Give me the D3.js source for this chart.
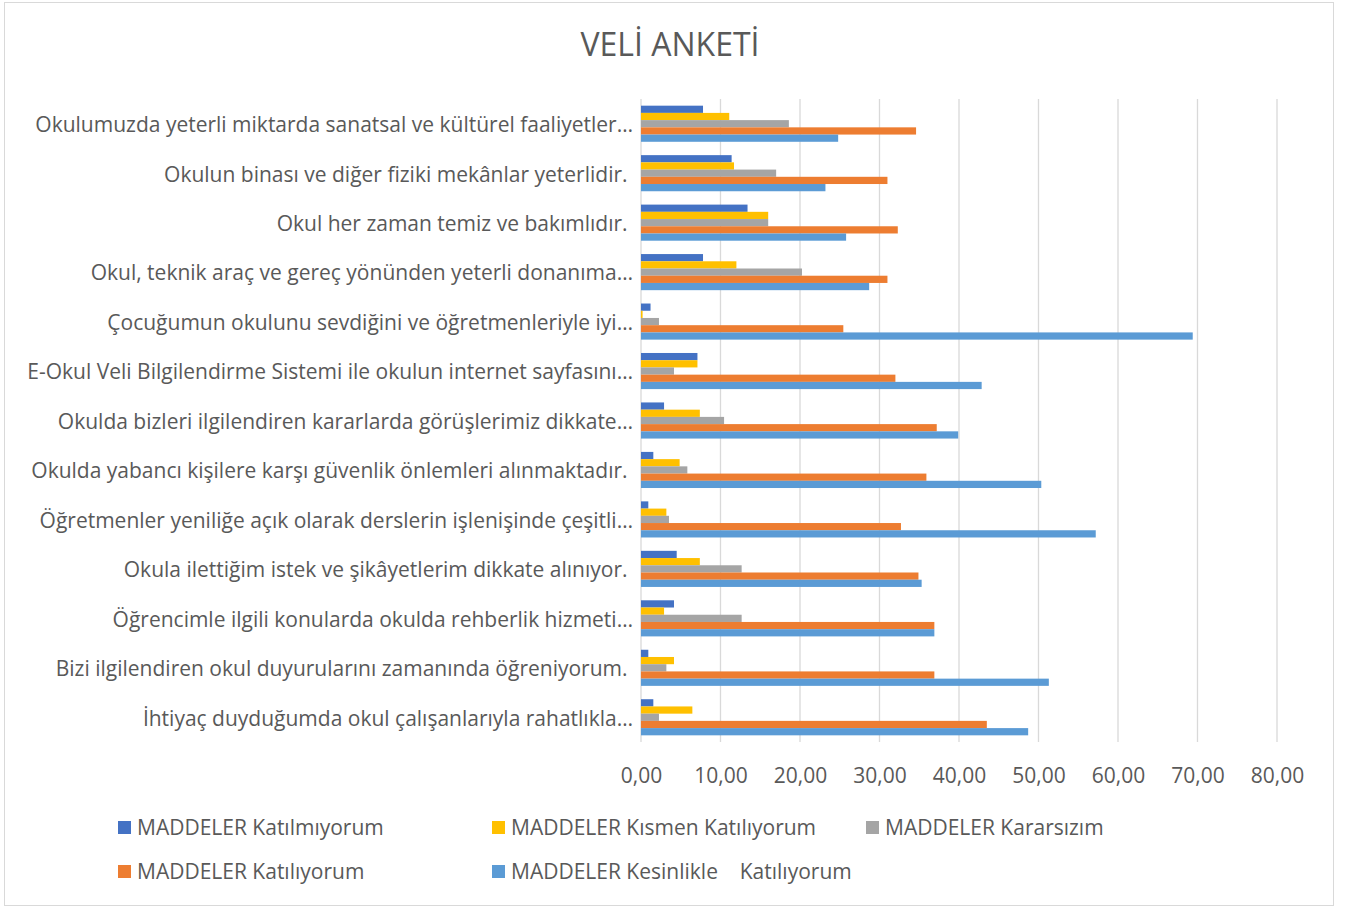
<!DOCTYPE html>
<html>
<head>
<meta charset="utf-8">
<script src="https://cdn.jsdelivr.net/npm/d3@7"></script>
<style>
    body { margin: 0; background: #fff; }
    text { font-family: "Open Sans", "Noto Sans", sans-serif; fill: #595959; white-space: pre; }
</style>
</head>
<body>
<svg id="chart"></svg>
<script>
// categories, top to bottom as shown (full sentences keep their trailing space)
let categories = [
    "Okulumuzda yeterli miktarda sanatsal ve kültürel faaliyetler…",
    "Okulun binası ve diğer fiziki mekânlar yeterlidir. ",
    "Okul her zaman temiz ve bakımlıdır. ",
    "Okul, teknik araç ve gereç yönünden yeterli donanıma…",
    "Çocuğumun okulunu sevdiğini ve öğretmenleriyle iyi…",
    "E-Okul Veli Bilgilendirme Sistemi ile okulun internet sayfasını…",
    "Okulda bizleri ilgilendiren kararlarda görüşlerimiz dikkate…",
    "Okulda yabancı kişilere karşı güvenlik önlemleri alınmaktadır. ",
    "Öğretmenler yeniliğe açık olarak derslerin işlenişinde çeşitli…",
    "Okula ilettiğim istek ve şikâyetlerim dikkate alınıyor. ",
    "Öğrencimle ilgili konularda okulda rehberlik hizmeti…",
    "Bizi ilgilendiren okul duyurularını zamanında öğreniyorum. ",
    "İhtiyaç duyduğumda okul çalışanlarıyla rahatlıkla…"
];

let seriesNames = [
    "MADDELER Katılmıyorum",
    "MADDELER Kısmen Katılıyorum",
    "MADDELER Kararsızım",
    "MADDELER Katılıyorum",
    "MADDELER Kesinlikle    Katılıyorum"
];
let seriesColors = ["#4472C4", "#FFC000", "#A5A5A5", "#ED7D31", "#5B9BD5"];

let katilmiyorum = [7.8, 11.4, 13.4, 7.8, 1.2, 7.1, 2.9, 1.55, 0.92, 4.49, 4.15, 0.92, 1.55];
let kismen       = [11.1, 11.7, 16.0, 12.0, 0.2, 7.1, 7.4, 4.86, 3.19, 7.4, 2.9, 4.15, 6.46];
let kararsiz     = [18.6, 17.0, 16.0, 20.25, 2.26, 4.15, 10.45, 5.83, 3.52, 12.66, 12.66, 3.19, 2.26];
let katiliyorum  = [34.6, 31.0, 32.3, 31.0, 25.45, 32.0, 37.2, 35.9, 32.7, 34.9, 36.9, 36.9, 43.5];
let kesinlikle   = [24.8, 23.2, 25.8, 28.7, 69.4, 42.85, 39.9, 50.35, 57.2, 35.3, 36.9, 51.3, 48.7];

let xTicks = [0, 10, 20, 30, 40, 50, 60, 70, 80];

let allSeries = [katilmiyorum, kismen, kararsiz, katiliyorum, kesinlikle];

let width = 1350, height = 909;
let svg = d3.select('#chart').attr('width', width).attr('height', height);

// chart frame
svg.append('rect')
    .attr('x', 4.5).attr('y', 2.5).attr('width', 1329).attr('height', 903)
    .attr('fill', '#fff').attr('stroke', '#D9D9D9').attr('stroke-width', 1);

svg.append('text')
    .attr('x', 670).attr('y', 56)
    .attr('text-anchor', 'middle')
    .style('font-size', '32px')
    .text('VELİ ANKETİ');

let scX = d3.scaleLinear().domain([0, 80]).range([641, 1277]);
let scY = d3.scaleBand().domain(categories).range([99, 742])
    .paddingInner(0.27).paddingOuter(0.135);
let scS = d3.scaleBand().domain(d3.range(seriesNames.length)).range([0, scY.bandwidth()]);

// vertical gridlines
svg.append('g').selectAll('line')
    .data(xTicks).enter().append('line')
    .attr('x1', d => scX(d)).attr('x2', d => scX(d))
    .attr('y1', 99).attr('y2', 742)
    .attr('stroke', '#D9D9D9').attr('stroke-width', 1.3);

// bars
let groups = svg.append('g').selectAll('g')
    .data(categories).enter().append('g')
    .attr('transform', d => `translate(0,${scY(d)})`);

groups.selectAll('rect')
    .data((c, i) => allSeries.map((s, k) => ({ k: k, v: s[i] })))
    .enter().append('rect')
    .attr('x', scX(0))
    .attr('y', d => scS(d.k))
    .attr('width', d => scX(d.v) - scX(0))
    .attr('height', scS.bandwidth())
    .attr('fill', d => seriesColors[d.k]);

// category labels
svg.append('g').selectAll('text')
    .data(categories).enter().append('text')
    .attr('x', 633)
    .attr('y', d => scY(d) + scY.bandwidth() / 2 + 1)
    .attr('dy', '0.35em')
    .attr('text-anchor', 'end')
    .style('font-size', '21px')
    .text(d => d);

// x axis
let xAxis = d3.axisBottom(scX)
    .tickValues(xTicks)
    .tickSize(0)
    .tickPadding(10)
    .tickFormat(d => d.toFixed(2).replace('.', ','));
let ax = svg.append('g').attr('transform', 'translate(0,758)').call(xAxis);
ax.select('.domain').remove();
ax.selectAll('text')
    .style('font-size', '21px')
    .style('font-family', '"Open Sans", "Noto Sans", sans-serif')
    .attr('fill', '#595959');

// legend
let legendPos = [[118, 828], [492, 828], [866, 828], [118, 872], [492, 872]];
let lg = svg.append('g').selectAll('g')
    .data(seriesNames).enter().append('g')
    .attr('transform', (d, i) => `translate(${legendPos[i][0]},${legendPos[i][1]})`);
lg.append('rect')
    .attr('x', 0).attr('y', -7).attr('width', 13).attr('height', 13)
    .attr('fill', (d, i) => seriesColors[i]);
lg.append('text')
    .attr('x', 19).attr('dy', '0.35em')
    .style('font-size', '21px')
    .text(d => d);
</script>
</body>
</html>
